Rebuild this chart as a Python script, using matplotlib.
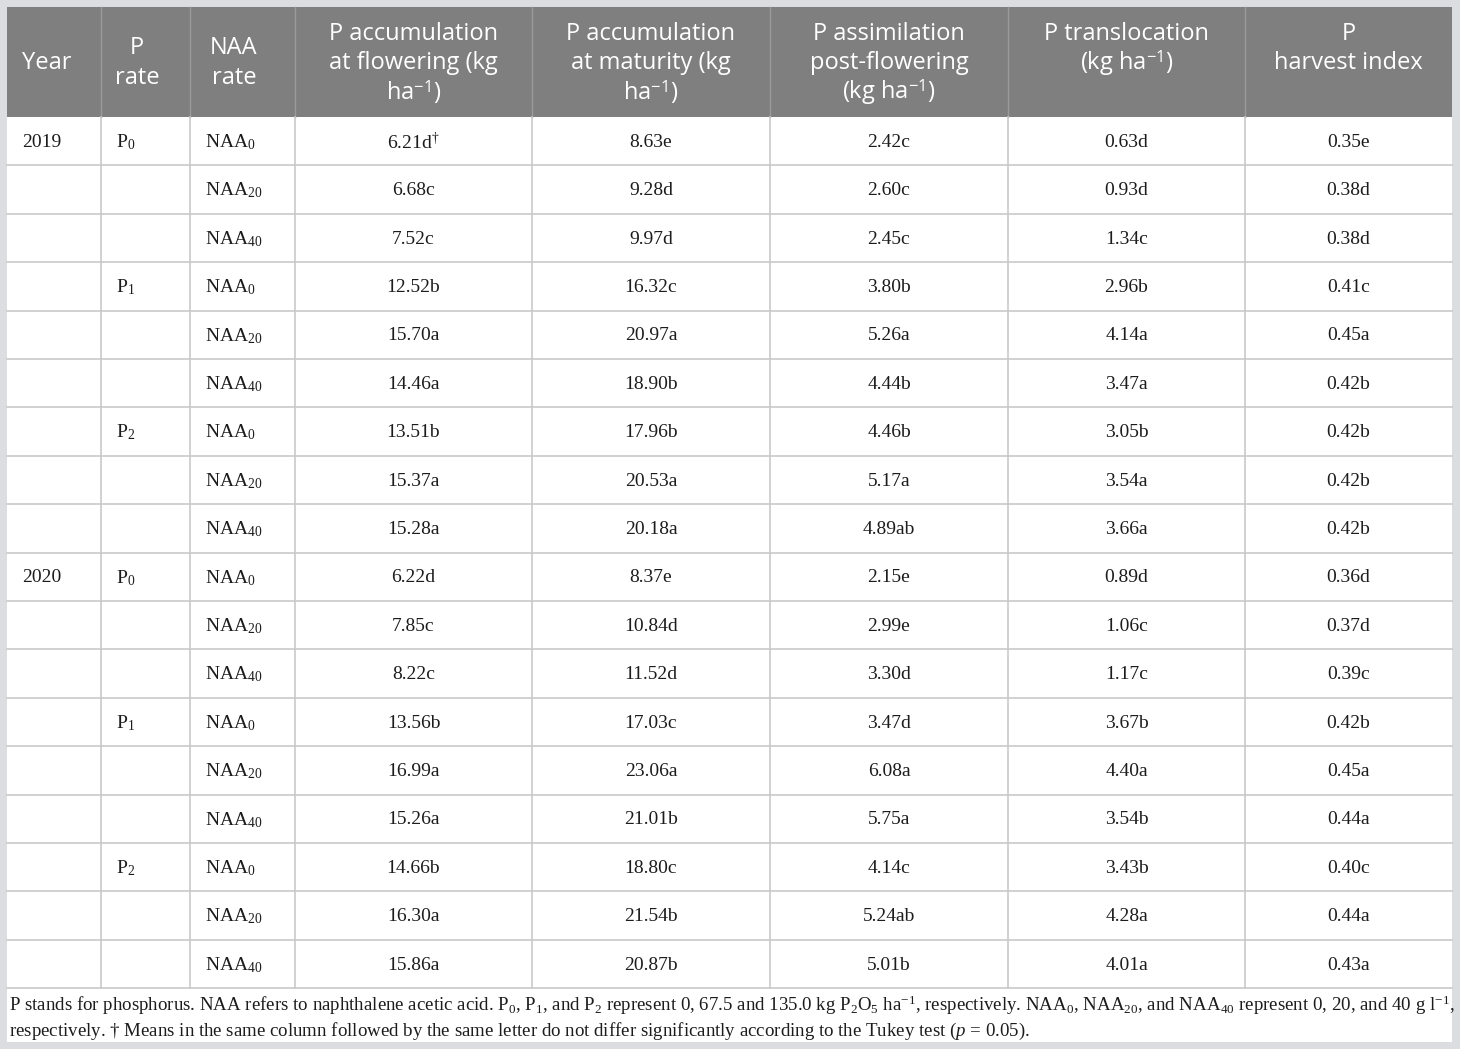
import numpy as np
import matplotlib
matplotlib.use("Agg")
import matplotlib.pyplot as plt
from matplotlib.patches import Rectangle

plt.rcParams['mathtext.fontset'] = 'custom'
plt.rcParams['mathtext.rm'] = 'Liberation Serif'
plt.rcParams['mathtext.it'] = 'Liberation Serif:italic'
plt.rcParams['mathtext.sf'] = 'Open Sans'

# table content
years = ['2019', '', '', '', '', '', '', '', '', '2020', '', '', '', '', '', '', '', '']
p_rates = [r'$\mathrm{P}_{0}$', '', '', r'$\mathrm{P}_{1}$', '', '', r'$\mathrm{P}_{2}$', '', '',
           r'$\mathrm{P}_{0}$', '', '', r'$\mathrm{P}_{1}$', '', '', r'$\mathrm{P}_{2}$', '', '']
naa_rates = [r'$\mathrm{NAA}_{0}$', r'$\mathrm{NAA}_{20}$', r'$\mathrm{NAA}_{40}$'] * 6
p_flowering = [r'$\mathrm{6.21d}^{†}$', '6.68c', '7.52c', '12.52b', '15.70a', '14.46a',
               '13.51b', '15.37a', '15.28a', '6.22d', '7.85c', '8.22c',
               '13.56b', '16.99a', '15.26a', '14.66b', '16.30a', '15.86a']
p_maturity = ['8.63e', '9.28d', '9.97d', '16.32c', '20.97a', '18.90b',
              '17.96b', '20.53a', '20.18a', '8.37e', '10.84d', '11.52d',
              '17.03c', '23.06a', '21.01b', '18.80c', '21.54b', '20.87b']
p_assimilation = ['2.42c', '2.60c', '2.45c', '3.80b', '5.26a', '4.44b',
                  '4.46b', '5.17a', '4.89ab', '2.15e', '2.99e', '3.30d',
                  '3.47d', '6.08a', '5.75a', '4.14c', '5.24ab', '5.01b']
p_translocation = ['0.63d', '0.93d', '1.34c', '2.96b', '4.14a', '3.47a',
                   '3.05b', '3.54a', '3.66a', '0.89d', '1.06c', '1.17c',
                   '3.67b', '4.40a', '3.54b', '3.43b', '4.28a', '4.01a']
p_harvest = ['0.35e', '0.38d', '0.38d', '0.41c', '0.45a', '0.42b',
             '0.42b', '0.42b', '0.42b', '0.36d', '0.37d', '0.39c',
             '0.42b', '0.45a', '0.44a', '0.40c', '0.44a', '0.43a']

headers = [['Year'],
           ['P', 'rate'],
           ['NAA', 'rate'],
           ['P accumulation', 'at flowering (kg', r'ha$^{\mathsf{-1}}$)'],
           ['P accumulation', 'at maturity (kg', r'ha$^{\mathsf{-1}}$)'],
           ['P assimilation', 'post-flowering', r'(kg ha$^{\mathsf{-1}}$)'],
           ['P translocation', r'(kg ha$^{\mathsf{-1}}$)'],
           ['P', 'harvest index']]

caption = [r'P stands for phosphorus. NAA refers to naphthalene acetic acid. $\mathrm{P}_{0}$, $\mathrm{P}_{1}$, '
           r'and $\mathrm{P}_{2}$ represent 0, 67.5 and 135.0 kg $\mathrm{P}_{2}\mathrm{O}_{5}$ ha$^{-1}$, '
           r'respectively. $\mathrm{NAA}_{0}$, $\mathrm{NAA}_{20}$, and $\mathrm{NAA}_{40}$ represent 0, 20, '
           r'and 40 g l$^{-1}$,',
           r'respectively. † Means in the same column followed by the same letter do not differ '
           r'significantly according to the Tukey test ($p$ = 0.05).']

columns = [years, p_rates, naa_rates, p_flowering, p_maturity,
           p_assimilation, p_translocation, p_harvest]

# layout (pixels)
W, H = 1460, 1049
col_edges = [7, 101, 190, 295, 532, 770, 1008, 1245, 1452]
head_top, head_bot = 7, 117
row_h = 48.4
n_rows = len(years)
table_bot = head_bot + row_h * n_rows

outer = '#dcdde1'
head_col = '#7f7f7f'
grid_col = '#c9c9c9'
txt_col = '#1c1c1c'

fig = plt.figure(figsize=(W / 100, H / 100), dpi=100)
fig.patch.set_facecolor(outer)
ax = fig.add_axes([0, 0, 1, 1])
ax.set_xlim(0, W)
ax.set_ylim(H, 0)
ax.axis('off')

# white body incl. caption
ax.add_patch(Rectangle((7, head_bot), 1445, 1042 - head_bot, facecolor='white', edgecolor='none'))
# header band
ax.add_patch(Rectangle((7, head_top), 1445, head_bot - head_top, facecolor=head_col, edgecolor='none'))
for x in col_edges[1:-1]:
    ax.plot([x, x], [head_top, head_bot], color='#9a9a9a', lw=1)

# grid lines
for i in range(1, n_rows + 1):
    y = head_bot + row_h * i
    ax.plot([7, 1452], [y, y], color=grid_col, lw=1.2)
for x in col_edges[1:-1]:
    ax.plot([x, x], [head_bot, table_bot], color=grid_col, lw=1.2)

# header text
line_step = 29
for c, lines in enumerate(headers):
    n = len(lines)
    if c <= 2:
        y0 = 63 - (n - 1) * line_step / 2
    else:
        y0 = 34
    for k, line in enumerate(lines):
        y = y0 + k * line_step
        if c == 0:
            ax.text(22, y, line, ha='left', va='center', color='white',
                    fontsize=17, family='Open Sans')
        elif c in (1, 2):
            cx = {1: 137, 2: 234}[c]
            ax.text(cx, y, line, ha='center', va='center', color='white',
                    fontsize=17, family='Open Sans')
        else:
            xc = (col_edges[c] + col_edges[c + 1]) / 2
            ax.text(xc, y, line, ha='center', va='center', color='white',
                    fontsize=17, family='Open Sans')

# body text
for r in range(n_rows):
    y = head_bot + row_h * (r + 0.5) + 1
    for c, col in enumerate(columns):
        s = col[r]
        if not s:
            continue
        if c <= 2:
            ax.text(col_edges[c] + 15, y, s, ha='left', va='center',
                    color=txt_col, fontsize=14, family='Liberation Serif')
        else:
            xc = (col_edges[c] + col_edges[c + 1]) / 2
            ax.text(xc, y, s, ha='center', va='center',
                    color=txt_col, fontsize=14, family='Liberation Serif')

# caption
ax.text(9, 1005, caption[0], ha='left', va='center', color=txt_col,
        fontsize=13.55, family='Liberation Serif')
ax.text(9, 1031, caption[1], ha='left', va='center', color=txt_col,
        fontsize=13.55, family='Liberation Serif')

fig.savefig('out.png', dpi=100, facecolor=outer)
